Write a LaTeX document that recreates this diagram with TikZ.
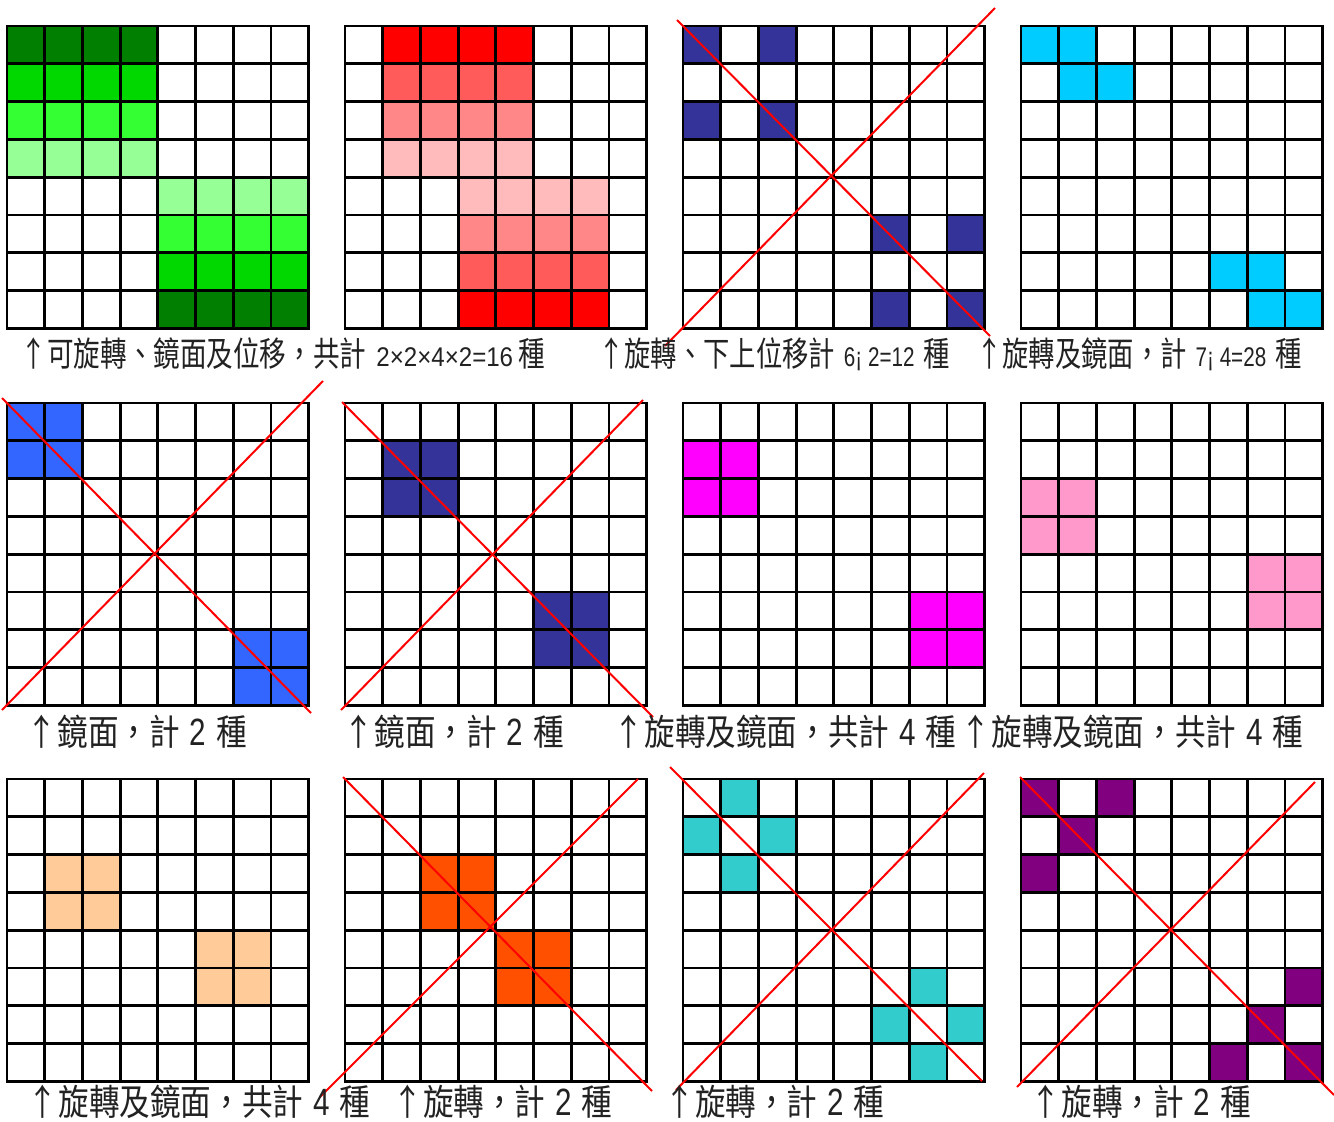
\documentclass[tikz,border=0pt]{standalone}
\usepackage{fontspec}
\newfontfamily\cjk[FakeStretch=0.85]{Noto Sans CJK TC}
\newfontfamily\numf[FakeStretch=0.84]{Liberation Sans}
\newfontfamily\numw[FakeStretch=0.97]{Liberation Sans}
\newfontfamily\numg[FakeStretch=0.78]{Liberation Sans}
\definecolor{gA}{HTML}{007F00}
\definecolor{gB}{HTML}{00D800}
\definecolor{gC}{HTML}{33FF33}
\definecolor{gD}{HTML}{96FF96}
\definecolor{rA}{HTML}{FF0000}
\definecolor{rB}{HTML}{FF5B5B}
\definecolor{rC}{HTML}{FF8787}
\definecolor{rD}{HTML}{FFBBBB}
\definecolor{navy}{HTML}{333399}
\definecolor{sky}{HTML}{00CCFF}
\definecolor{blu}{HTML}{3366FF}
\definecolor{mag}{HTML}{FF00FF}
\definecolor{pnk}{HTML}{FF99CC}
\definecolor{pch}{HTML}{FFCC99}
\definecolor{org}{HTML}{FF5000}
\definecolor{tea}{HTML}{33CCCC}
\definecolor{pur}{HTML}{800080}
\definecolor{capcol}{HTML}{222222}
\newcommand\cellw{37.7}
\newcommand\cellh{37.8}
% #1 x, #2 y, #3 list r/c/colour
\newcommand\boardat[3]{%
  \foreach \rr/\cc/\kk in {#3} {
    \fill[\kk] ({#1+\cc*\cellw},{#2+\rr*\cellh}) rectangle ++(\cellw,\cellh);
  }
  \foreach \ii in {0,...,8} {
    \draw[gridln] ({#1+\ii*\cellw},#2) -- ++(0,{8*\cellh});
    \draw[gridln] (#1,{#2+\ii*\cellh}) -- ++({8*\cellw},0);
  }
}
% small digits (row 1) and large digits (rows 2, 3)
\newcommand\smallnum[1]{\hspace{10pt}{\numf\fontsize{27}{29}\selectfont #1}\hspace{10pt}}
\newcommand\bignum[1]{\hspace{10pt}{\numg\fontsize{38}{40}\selectfont #1}\hspace{10pt}}
\tikzset{
  gridln/.style={black,line width=2.8pt,line cap=rect},
  xline/.style={red,line width=2pt},
  capA/.style={anchor=base west,inner sep=0pt,text=capcol,
    font=\cjk\fontsize{34}{36}\selectfont},
  capB/.style={anchor=base west,inner sep=0pt,text=capcol,
    font=\cjk\fontsize{36}{38}\selectfont},
}
\begin{document}
\begin{tikzpicture}[x=1pt,y=-1pt]
\useasboundingbox[fill=white] (0,0) rectangle (1334,1122);
% ---------- row 1 ----------
\boardat{7}{26}{0/0/gA,0/1/gA,0/2/gA,0/3/gA,1/0/gB,1/1/gB,1/2/gB,1/3/gB,
  2/0/gC,2/1/gC,2/2/gC,2/3/gC,3/0/gD,3/1/gD,3/2/gD,3/3/gD,
  4/4/gD,4/5/gD,4/6/gD,4/7/gD,5/4/gC,5/5/gC,5/6/gC,5/7/gC,
  6/4/gB,6/5/gB,6/6/gB,6/7/gB,7/4/gA,7/5/gA,7/6/gA,7/7/gA}
\boardat{345}{26}{0/1/rA,0/2/rA,0/3/rA,0/4/rA,1/1/rB,1/2/rB,1/3/rB,1/4/rB,
  2/1/rC,2/2/rC,2/3/rC,2/4/rC,3/1/rD,3/2/rD,3/3/rD,3/4/rD,
  4/3/rD,4/4/rD,4/5/rD,4/6/rD,5/3/rC,5/4/rC,5/5/rC,5/6/rC,
  6/3/rB,6/4/rB,6/5/rB,6/6/rB,7/3/rA,7/4/rA,7/5/rA,7/6/rA}
\boardat{683}{26}{0/0/navy,0/2/navy,2/0/navy,2/2/navy,5/5/navy,5/7/navy,7/5/navy,7/7/navy}
\boardat{1021}{26}{0/0/sky,0/1/sky,1/1/sky,1/2/sky,6/5/sky,6/6/sky,7/6/sky,7/7/sky}
% ---------- row 2 ----------
\boardat{7}{403}{0/0/blu,0/1/blu,1/0/blu,1/1/blu,6/6/blu,6/7/blu,7/6/blu,7/7/blu}
\boardat{345}{403}{1/1/navy,1/2/navy,2/1/navy,2/2/navy,5/5/navy,5/6/navy,6/5/navy,6/6/navy}
\boardat{683}{403}{1/0/mag,1/1/mag,2/0/mag,2/1/mag,5/6/mag,5/7/mag,6/6/mag,6/7/mag}
\boardat{1021}{403}{2/0/pnk,2/1/pnk,3/0/pnk,3/1/pnk,4/6/pnk,4/7/pnk,5/6/pnk,5/7/pnk}
% ---------- row 3 ----------
\boardat{7}{779}{2/1/pch,2/2/pch,3/1/pch,3/2/pch,4/5/pch,4/6/pch,5/5/pch,5/6/pch}
\boardat{345}{779}{2/2/org,2/3/org,3/2/org,3/3/org,4/4/org,4/5/org,5/4/org,5/5/org}
\boardat{683}{779}{0/1/tea,1/0/tea,1/2/tea,2/1/tea,5/6/tea,6/5/tea,6/7/tea,7/6/tea}
\boardat{1021}{779}{0/0/pur,0/2/pur,1/1/pur,2/0/pur,5/7/pur,6/6/pur,7/5/pur,7/7/pur}
% ---------- red crosses ----------
\coordinate (a1) at (677,20);   \coordinate (a2) at (990,336);
\coordinate (a3) at (995,8);    \coordinate (a4) at (665,346);
\coordinate (b1) at (2,398);    \coordinate (b2) at (311,713);
\coordinate (b3) at (323,381);  \coordinate (b4) at (2,710);
\coordinate (c1) at (342,402);  \coordinate (c2) at (653,717);
\coordinate (c3) at (643,400);  \coordinate (c4) at (341,710);
\coordinate (d1) at (343,777);  \coordinate (d2) at (652,1091);
\coordinate (d3) at (638,779);  \coordinate (d4) at (320,1097);
\coordinate (e1) at (670,767);  \coordinate (e2) at (982,1081);
\coordinate (e3) at (984,773);  \coordinate (e4) at (676,1090);
\coordinate (f1) at (1020,777); \coordinate (f2) at (1334,1095);
\coordinate (f3) at (1315,782); \coordinate (f4) at (1017,1087);
\foreach \p in {a,b,c,d,e,f} {
  \draw[xline] (\p1) -- (\p2);
  \draw[xline] (\p3) -- (\p4);
}
% ---------- captions ----------
\node[capA] (t1) at (20.5,366) {\scalebox{0.92}[1]{↑可旋轉、鏡面及位移，共計\hspace{11pt}{\numw\fontsize{27}{29}\selectfont 2×2×4×2=16}\hspace{6pt}種}};
\node[capA] (t2) at (598,366) {\scalebox{0.91}[1]{↑旋轉、下上位移計\smallnum{6¡ 2=12}種}};
\node[capA] (t3) at (976,366) {\scalebox{0.91}[1]{↑旋轉及鏡面，計\smallnum{7¡ 4=28}種}};
\node[capB] (t4) at (26.7,745) {↑鏡面，計\bignum{2}種};
\node[capB] (t5) at (343.7,745) {↑鏡面，計\bignum{2}種};
\node[capB] (t6) at (613.7,745) {↑旋轉及鏡面，共計\bignum{4}種};
\node[capB] (t7) at (960.7,745) {↑旋轉及鏡面，共計\bignum{4}種};
\node[capB] (t8) at (27.7,1115) {↑旋轉及鏡面，共計\bignum{4}種};
\node[capB] (t9) at (392.2,1115) {↑旋轉，計\bignum{2}種};
\node[capB] (t10) at (664.2,1115) {↑旋轉，計\bignum{2}種};
\node[capB] (t11) at (1030.7,1115) {↑旋轉，計\bignum{2}種};
\end{tikzpicture}
\end{document}
